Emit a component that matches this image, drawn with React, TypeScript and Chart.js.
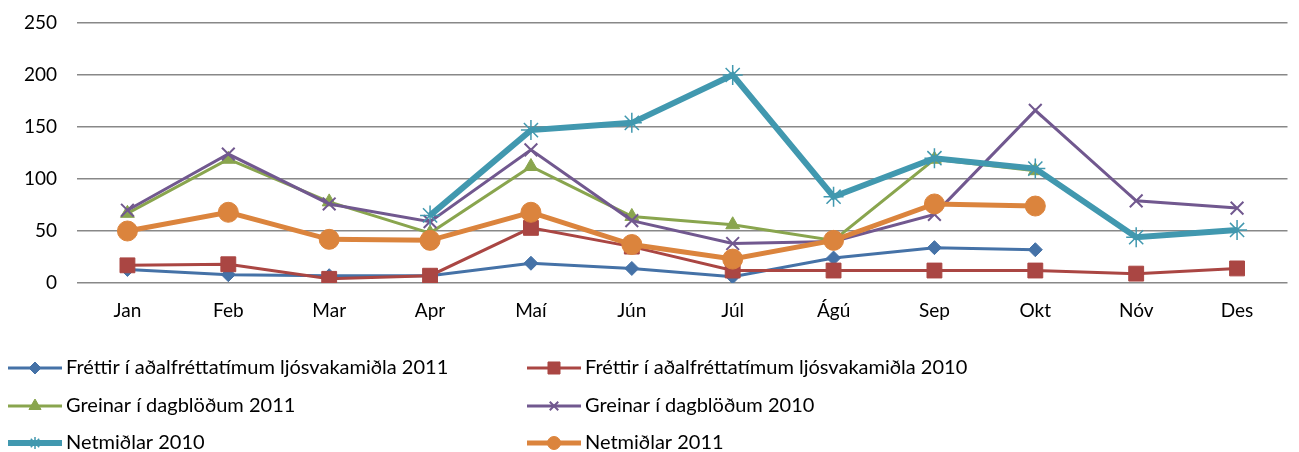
import React, { useEffect, useRef } from "react";
import { Chart, registerables } from "chart.js";
import { drawPoint } from "chart.js/helpers";

Chart.register(...registerables);

const months = ["Jan", "Feb", "Mar", "Apr", "Maí", "Jún", "Júl", "Ágú", "Sep", "Okt", "Nóv", "Des"];
const yMin = 0;
const yMax = 250;
const yStep = 50;

const seriesNames = [
  "Fréttir í aðalfréttatímum ljósvakamiðla 2011",
  "Fréttir í aðalfréttatímum ljósvakamiðla 2010",
  "Greinar í dagblöðum 2011",
  "Greinar í dagblöðum 2010",
  "Netmiðlar 2010",
  "Netmiðlar 2011",
];

const frettir2011 = [13, 8, 7, 7, 19, 14, 6, 24, 34, 32, null, null];
const frettir2010 = [17, 18, 4, 7, 53, 35, 12, 12, 12, 12, 9, 14];
const greinar2011 = [67, 119, 78, 48, 112, 64, 56, 41, 119, 108, null, null];
const greinar2010 = [70, 124, 76, 59, 128, 60, 38, 40, 66, 166, 79, 72];
const netmidlar2010 = [null, null, null, 65, 147, 154, 200, 83, 120, 110, 44, 51];
const netmidlar2011 = [50, 68, 42, 41, 68, 37, 23, 41, 76, 74, null, null];

const FONT = "Lato";

const styles = [
  { color: "#4572A7", width: 3, point: "rectRot", radius: 7, lr: 6, pbw: 1 },
  { color: "#AA4643", width: 3, point: "rect", radius: 10.5, lr: 8.5, pbw: 1 },
  { color: "#89A54E", width: 3, point: "triangle", radius: 8, lr: 7, pbw: 1 },
  { color: "#71588F", width: 3, point: "crossRot", radius: 9, lr: 6, pbw: 2 },
  { color: "#4198AF", width: 6, point: "star", radius: 10, lr: 6, pbw: 1.5 },
  { color: "#DB843D", width: 5, point: "circle", radius: 10, lr: 6.5, pbw: 1 },
];

const legendPlugin = {
  id: "gridLegend",
  afterDraw(chart: any) {
    const ctx = chart.ctx as CanvasRenderingContext2D;
    const cols = [8, 527];
    const rows = [368, 406, 443];
    chart.data.datasets.forEach((ds: any, i: number) => {
      const st = styles[i];
      const x = cols[i % 2];
      const y = rows[Math.floor(i / 2)];
      ctx.save();
      ctx.strokeStyle = st.color;
      ctx.lineWidth = st.width;
      ctx.beginPath();
      ctx.moveTo(x, y);
      ctx.lineTo(x + 54, y);
      ctx.stroke();
      ctx.fillStyle = st.color;
      ctx.strokeStyle = st.color;
      ctx.lineWidth = st.pbw;
      drawPoint(ctx, { pointStyle: st.point, radius: st.lr, borderWidth: st.pbw, rotation: 0 } as any, x + 27, y);
      ctx.fillStyle = "#000";
      ctx.font = `20px ${FONT}`;
      ctx.textBaseline = "middle";
      ctx.textAlign = "left";
      ctx.fillText(ds.label, x + 58, y);
      ctx.restore();
    });
  },
};

export default function App() {
  const ref = useRef<HTMLCanvasElement | null>(null);
  useEffect(() => {
    if (!ref.current) return;
    const dataArrays = [frettir2011, frettir2010, greinar2011, greinar2010, netmidlar2010, netmidlar2011];
    const chart = new Chart(ref.current, {
      type: "line",
      data: {
        labels: months,
        datasets: dataArrays.map((d, i) => ({
          label: seriesNames[i],
          data: d,
          borderColor: styles[i].color,
          backgroundColor: styles[i].color,
          borderWidth: styles[i].width,
          pointStyle: styles[i].point as any,
          pointRadius: styles[i].radius,
          pointBorderWidth: styles[i].pbw,
          pointBackgroundColor: styles[i].color,
          pointBorderColor: styles[i].color,
          tension: 0,
          spanGaps: false,
          order: 5 - i,
        })),
      },
      options: {
        animation: false,
        responsive: true,
        maintainAspectRatio: false,
        layout: { padding: { left: 0, right: 3, top: 23, bottom: 0 } },
        plugins: { legend: { display: false }, tooltip: { enabled: false } },
        scales: {
          x: {
            offset: true,
            grid: { display: false, drawTicks: false },
            border: { display: false },
            ticks: { color: "#000", font: { family: FONT, size: 19 }, padding: 16, maxRotation: 0 },
            afterFit: (s: any) => {
              s.height = 169;
            },
          },
          y: {
            min: yMin,
            max: yMax,
            ticks: { stepSize: yStep, color: "#000", font: { family: FONT, size: 19 }, padding: 20 },
            grid: { color: "#888888", lineWidth: 1.5, drawTicks: false },
            border: { display: false },
            afterFit: (s: any) => {
              s.width = 77;
              s.paddingTop = 12;
              s.paddingBottom = 12;
            },
          },
        },
      },
      plugins: [legendPlugin],
    });
    return () => chart.destroy();
  }, []);
  return (
    <div style={{ position: "fixed", left: 0, top: 0, width: 1299, height: 452, background: "#fff" }}>
      <canvas ref={ref} />
    </div>
  );
}
